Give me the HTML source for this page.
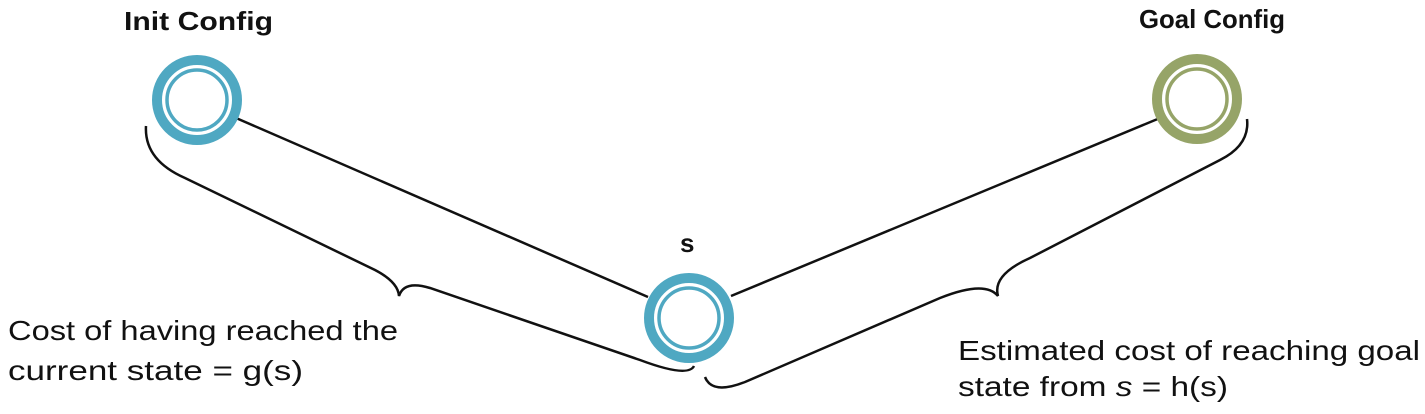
<!DOCTYPE html>
<html><head><meta charset="utf-8"><style>
html,body{margin:0;padding:0;background:#fff;width:1425px;height:414px;overflow:hidden}
svg{display:block}
.lbl{font-family:"Liberation Sans",sans-serif;font-weight:bold;font-size:26px;fill:#111}
.txt{font-family:"Liberation Sans",sans-serif;font-size:28px;fill:#111}
</style></head><body>
<svg width="1425" height="414" viewBox="0 0 1425 414">
<g stroke="#111" stroke-width="2.5" fill="none">
<line x1="236" y1="118" x2="648" y2="297"/>
<line x1="731" y1="296" x2="1160" y2="118"/>
</g>
<g stroke="#111" stroke-width="2.5" fill="none">
<path d="M146,126 Q144,160 185,178 L375,270 Q398,282 399,296 Q404,280 430,288 L640,360 Q688,378 694,366"/>
<path d="M705,377 Q712,395 745,382 L940,298 Q985,280 998,296 Q992,275 1030,258 L1220,160 Q1250,145 1247,119"/>
</g>
<g>
<circle cx="197" cy="100" r="40" fill="none" stroke="#4FA8C2" stroke-width="10"/>
<circle cx="197" cy="100" r="30" fill="none" stroke="#4FA8C2" stroke-width="3.5"/>
</g>
<g>
<circle cx="689" cy="318" r="40" fill="none" stroke="#4FA8C2" stroke-width="10"/>
<circle cx="689" cy="318" r="30" fill="none" stroke="#4FA8C2" stroke-width="3.5"/>
</g>
<g>
<circle cx="1197" cy="99" r="40" fill="none" stroke="#96A468" stroke-width="10"/>
<circle cx="1197" cy="99" r="30" fill="none" stroke="#96A468" stroke-width="3.5"/>
</g>
<text class="lbl" x="124" y="30" textLength="149" lengthAdjust="spacingAndGlyphs">Init Config</text>
<text class="lbl" x="680" y="252">s</text>
<text class="lbl" x="1139" y="28" textLength="146" lengthAdjust="spacingAndGlyphs">Goal Config</text>
<text class="txt" x="8" y="340" textLength="390" lengthAdjust="spacingAndGlyphs">Cost of having reached the</text>
<text class="txt" x="8" y="380" textLength="295" lengthAdjust="spacingAndGlyphs">current state = g(s)</text>
<text class="txt" x="958" y="360" textLength="462" lengthAdjust="spacingAndGlyphs">Estimated cost of reaching goal</text>
<text class="txt" x="958" y="396" textLength="270" lengthAdjust="spacingAndGlyphs">state from <tspan font-style="italic">s</tspan> = h(s)</text>
</svg>
</body></html>
